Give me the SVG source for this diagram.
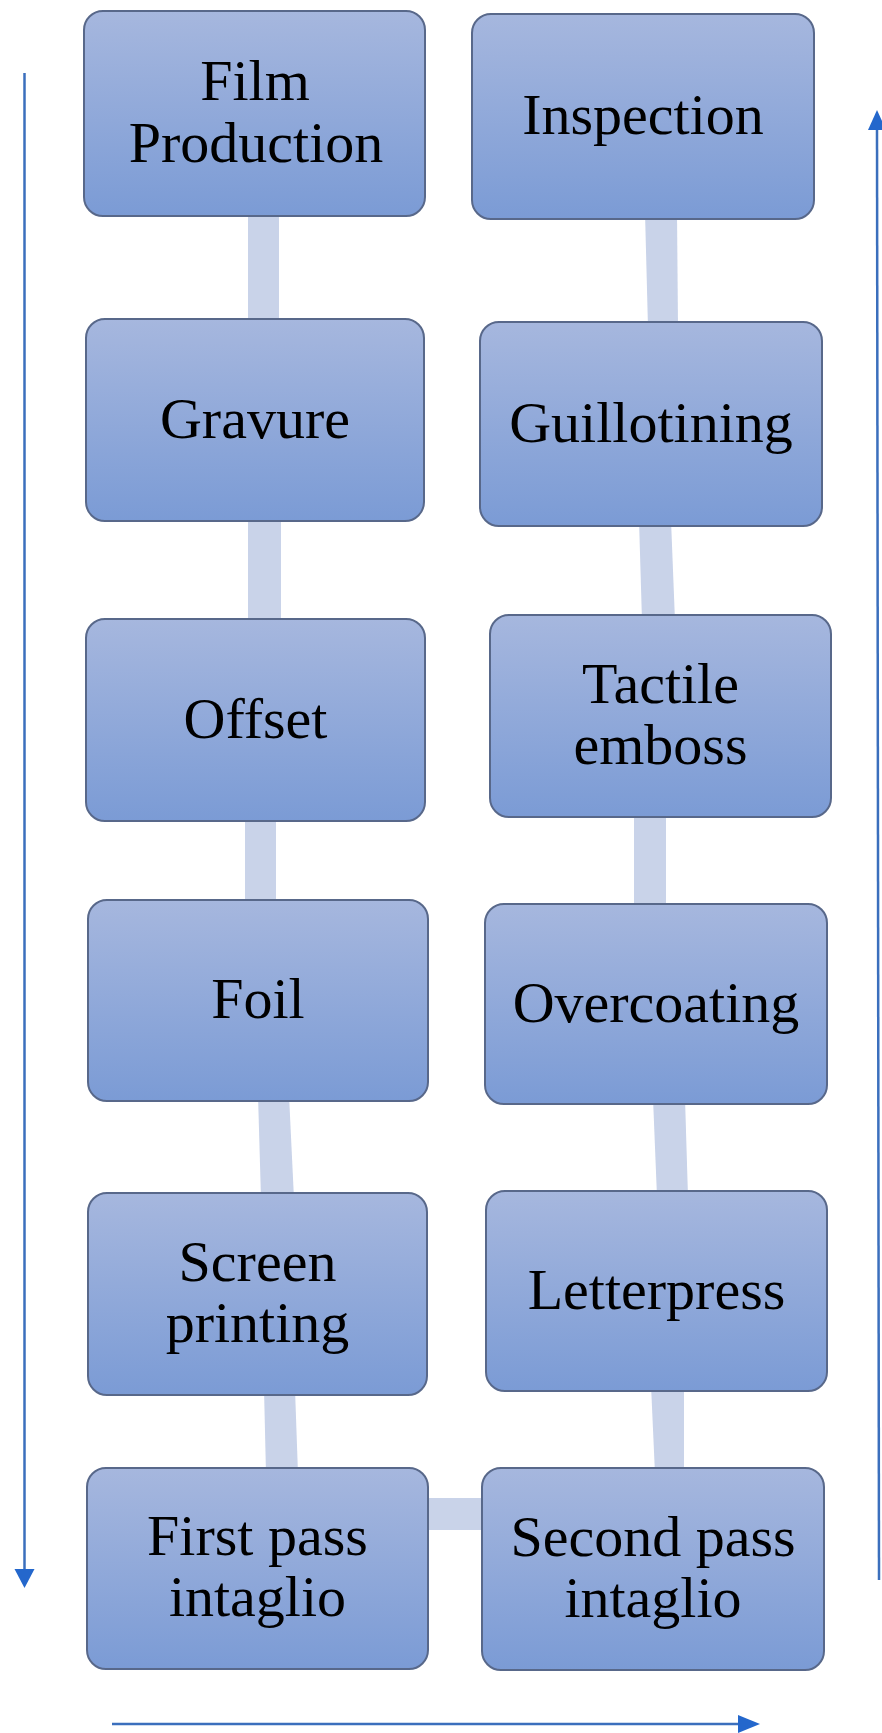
<svg xmlns="http://www.w3.org/2000/svg" width="882" height="1733" viewBox="0 0 882 1733">
<style>
.box{fill:url(#g);stroke:#58688a;stroke-width:2}
.t{font-family:"Liberation Serif","Times New Roman",serif;font-size:58px;fill:#000;text-anchor:middle}
.bar{fill:#c9d3e9}
.ar{stroke:#3b6fbd;stroke-width:2.5;fill:none}
.ah{fill:#2467cc}
</style>
<defs>
<linearGradient id="g" x1="0" y1="0" x2="0" y2="1">
<stop offset="0" stop-color="#a6b7de"/>
<stop offset="1" stop-color="#7b9bd5"/>
</linearGradient>
</defs>
<rect width="882" height="1733" fill="#ffffff"/>
<g id="connectors">
<polygon class="bar" points="248,210 279,210 279,325 248,325"/>
<polygon class="bar" points="248,515 281,515 281,625 248,625"/>
<polygon class="bar" points="245,815 276,815 276,905 245,905"/>
<polygon class="bar" points="258,1095 289,1095 294,1199 261,1199"/>
<polygon class="bar" points="264,1389 295,1389 298,1474 266,1474"/>
<polygon class="bar" points="645,212 677,212 678,328 648,328"/>
<polygon class="bar" points="639,520 671,520 675,621 642,621"/>
<polygon class="bar" points="634,811 666,811 666,910 634,910"/>
<polygon class="bar" points="653,1098 685,1098 688,1197 657,1197"/>
<polygon class="bar" points="651,1385 684,1385 684,1474 655,1474"/>
<polygon class="bar" points="420,1498 490,1498 490,1530 420,1530"/>
<line class="ar" x1="24.5" y1="73" x2="24.5" y2="1572"/>
<polygon class="ah" points="14.5,1569 34.5,1569 24.5,1588"/>
<line class="ar" x1="879" y1="1580" x2="877" y2="126"/>
<polygon class="ah" points="868,130 886,130 877,110"/>
<line class="ar" x1="112" y1="1724" x2="742" y2="1724"/>
<polygon class="ah" points="738,1715 738,1733 760,1724"/>
</g>
<g id="film-production">
<rect class="box" x="84" y="11" width="341" height="205" rx="19"/>
<text class="t" x="255" y="100">Film</text>
<text class="t" x="256" y="162">Production</text>
</g>
<g id="gravure">
<rect class="box" x="86" y="319" width="338" height="202" rx="19"/>
<text class="t" x="255" y="438">Gravure</text>
</g>
<g id="offset">
<rect class="box" x="86" y="619" width="339" height="202" rx="19"/>
<text class="t" x="255.5" y="738">Offset</text>
</g>
<g id="foil">
<rect class="box" x="88" y="900" width="340" height="201" rx="19"/>
<text class="t" x="258" y="1018">Foil</text>
</g>
<g id="screen-printing">
<rect class="box" x="88" y="1193" width="339" height="202" rx="19"/>
<text class="t" x="257.5" y="1281">Screen</text>
<text class="t" x="257.5" y="1342">printing</text>
</g>
<g id="first-pass-intaglio">
<rect class="box" x="87" y="1468" width="341" height="201" rx="19"/>
<text class="t" x="257.5" y="1555">First pass</text>
<text class="t" x="257.5" y="1616">intaglio</text>
</g>
<g id="inspection">
<rect class="box" x="472" y="14" width="342" height="205" rx="19"/>
<text class="t" x="643" y="134">Inspection</text>
</g>
<g id="guillotining">
<rect class="box" x="480" y="322" width="342" height="204" rx="19"/>
<text class="t" x="651" y="442">Guillotining</text>
</g>
<g id="tactile-emboss">
<rect class="box" x="490" y="615" width="341" height="202" rx="19"/>
<text class="t" x="660.5" y="703">Tactile</text>
<text class="t" x="660.5" y="764">emboss</text>
</g>
<g id="overcoating">
<rect class="box" x="485" y="904" width="342" height="200" rx="19"/>
<text class="t" x="656" y="1022">Overcoating</text>
</g>
<g id="letterpress">
<rect class="box" x="486" y="1191" width="341" height="200" rx="19"/>
<text class="t" x="656.5" y="1309">Letterpress</text>
</g>
<g id="second-pass-intaglio">
<rect class="box" x="482" y="1468" width="342" height="202" rx="19"/>
<text class="t" x="653" y="1556">Second pass</text>
<text class="t" x="653" y="1617">intaglio</text>
</g>
</svg>
